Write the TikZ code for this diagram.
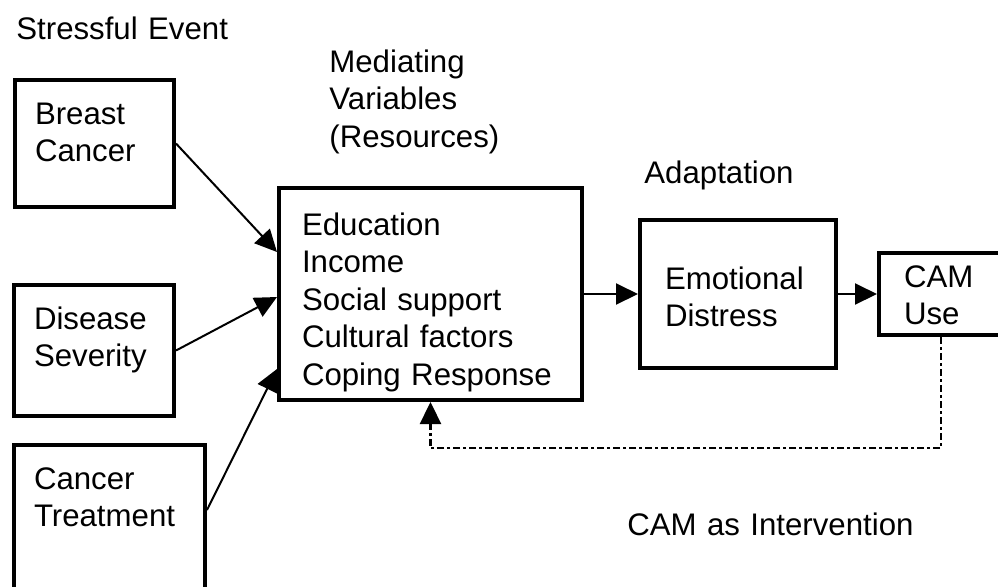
\documentclass[tikz,border=0pt]{standalone}
\usepackage{fontspec}
\setmainfont{Liberation Sans}
\usetikzlibrary{arrows.meta}
\usetikzlibrary{calc}

\tikzset{
  box/.style={draw, line width=2pt, anchor=north west, align=left, inner ysep=0pt, inner xsep=10pt, font=\fontsize{15.6pt}{18.75pt}\selectfont},
  lbl/.style={anchor=base west, align=left, inner sep=0pt, text width=150pt, font=\fontsize{15.6pt}{18.75pt}\selectfont},
  arr/.style={line width=1pt, -{Triangle[length=11pt,width=10.5pt]}},
  fb/.style={arr, line width=1.2pt, dash pattern=on 3.5pt off 1.5pt on 1.5pt off 1.5pt}
}

\begin{document}
\begin{tikzpicture}[x=0.5pt,y=-0.5pt]
\clip (0,0) rectangle (998,586);

% headings
\node[lbl] (event) at (16,39) {Stressful Event};
\node[lbl] (medvar) at (329,72) {Mediating\\Variables\\(Resources)};
\node[lbl] (adapt) at (644,183) {Adaptation};
\node[lbl] (camint) at (627,535) {CAM as Intervention};

% boxes
\node[box, text width=59.5pt, text height=22pt, text depth=41.5pt] (breast) at (13,78) {Breast\\Cancer};
\node[box, text width=60pt, text height=22pt, text depth=43.5pt] (disease) at (12,283) {Disease\\Severity};
\node[box, text width=75.5pt, text height=22pt, text depth=56.5pt] (treat) at (12,443) {Cancer\\Treatment};
\node[box, inner xsep=11.5pt, text width=128.5pt, text height=23.5pt, text depth=82.5pt] (med) at (277,186)
  {Education\\Income\\Social support\\Cultural factors\\Coping Response};
\node[box, inner xsep=12.5pt, text width=73pt, text height=34.5pt, text depth=39.5pt] (emo) at (638,218) {Emotional\\Distress};
\node[box, inner xsep=12.5pt, text width=45pt, text height=17pt, text depth=24pt] (cam) at (877,251) {CAM\\Use};

% arrows
\draw[arr] (breast.east) -- ([yshift=21pt]med.west);
\draw[arr] (disease.east) -- ([yshift=-1.5pt]med.west);
\draw[arr] ([yshift=-33.5pt]treat.north east) -- ([yshift=-37.5pt]med.west);
\draw[arr] (med.east) -- (emo.west);
\draw[arr] (emo.east) -- (cam.west);
\draw[fb] ([xshift=32pt]cam.south west) |- ([yshift=-23pt]med.south) -- (med.south);
\end{tikzpicture}
\end{document}
